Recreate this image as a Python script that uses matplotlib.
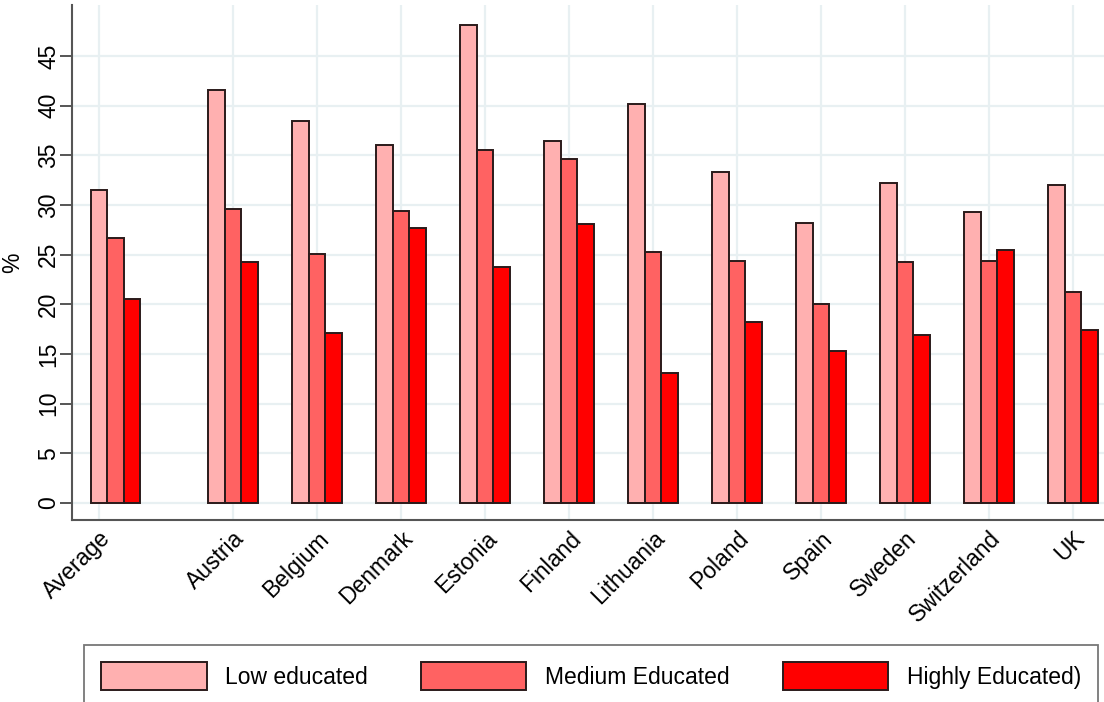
import numpy as np
import matplotlib.pyplot as plt
from matplotlib.patches import Patch

plt.rcParams['font.family'] = ['Liberation Sans', 'DejaVu Sans']

# Share of each group (%) by country
countries = ['Average', 'Austria', 'Belgium', 'Denmark', 'Estonia', 'Finland',
             'Lithuania', 'Poland', 'Spain', 'Sweden', 'Switzerland', 'UK']
low = [31.5, 41.6, 38.5, 36.0, 48.1, 36.4, 40.2, 33.3, 28.2, 32.2, 29.3, 32.0]
medium = [26.7, 29.6, 25.1, 29.4, 35.5, 34.6, 25.3, 24.4, 20.0, 24.3, 24.4, 21.2]
high = [20.5, 24.3, 17.1, 27.7, 23.8, 28.1, 13.1, 18.2, 15.3, 16.9, 25.5, 17.4]
series_names = ['Low educated', 'Medium Educated', 'Highly Educated)']
colors = ['#ffb0b0', '#ff6262', '#ff0000']

# the average sits a bit apart from the countries
group_pos = np.array([-0.4] + list(range(1, 12)), dtype=float)
tick_pos = np.array([-0.6] + list(range(1, 12)), dtype=float)
width = 0.196
fs = 16.5

fig = plt.figure(figsize=(11.04, 7.02), dpi=100)
ax = fig.add_axes([72 / 1104, 182 / 702, 1 - 72 / 1104, 515 / 702])

for k, (vals, col) in enumerate(zip([low, medium, high], colors)):
    ax.bar(group_pos + (k - 1) * width, vals, width, color=col,
           edgecolor='#2a1a1a', linewidth=1.4, zorder=3)

ax.set_xlim(-0.917, 11.37)
ax.set_ylim(-1.71, 50.14)
ax.set_yticks(range(0, 50, 5))
ax.set_xticks(tick_pos)
ax.set_xticklabels(countries, rotation=45, ha='right', rotation_mode='anchor',
                   fontsize=fs)
ax.tick_params(axis='x', length=0, pad=5)
ax.tick_params(axis='y', length=8.6, width=1.4, color='#555555', labelsize=fs,
               labelrotation=90, pad=0)
for lab in ax.get_yticklabels():
    lab.set_va('center')
ax.set_ylabel('%', fontsize=fs)
ax.yaxis.set_label_coords(-0.0465, 0.5)

ax.grid(True, color='#e8f0f2', linewidth=1.6, zorder=0)
for side in ['top', 'right']:
    ax.spines[side].set_visible(False)
for side in ['left', 'bottom']:
    ax.spines[side].set_color('#555555')
    ax.spines[side].set_linewidth(1.5)

handles = [Patch(facecolor=c, edgecolor='#2a1a1a', linewidth=1.4) for c in colors]
leg = fig.legend(handles, series_names, ncol=3, loc='upper left',
                 bbox_to_anchor=(84 / 1104, 1 - 645 / 702, 1014 / 1104, 0),
                 mode='expand', fontsize=fs, frameon=True, fancybox=False,
                 handlelength=4.6, handleheight=1.5, handletextpad=0.8,
                 borderpad=0.75, borderaxespad=0)
leg.get_frame().set_edgecolor('#555555')
leg.get_frame().set_linewidth(1.3)

fig.savefig('out.png', dpi=100)
